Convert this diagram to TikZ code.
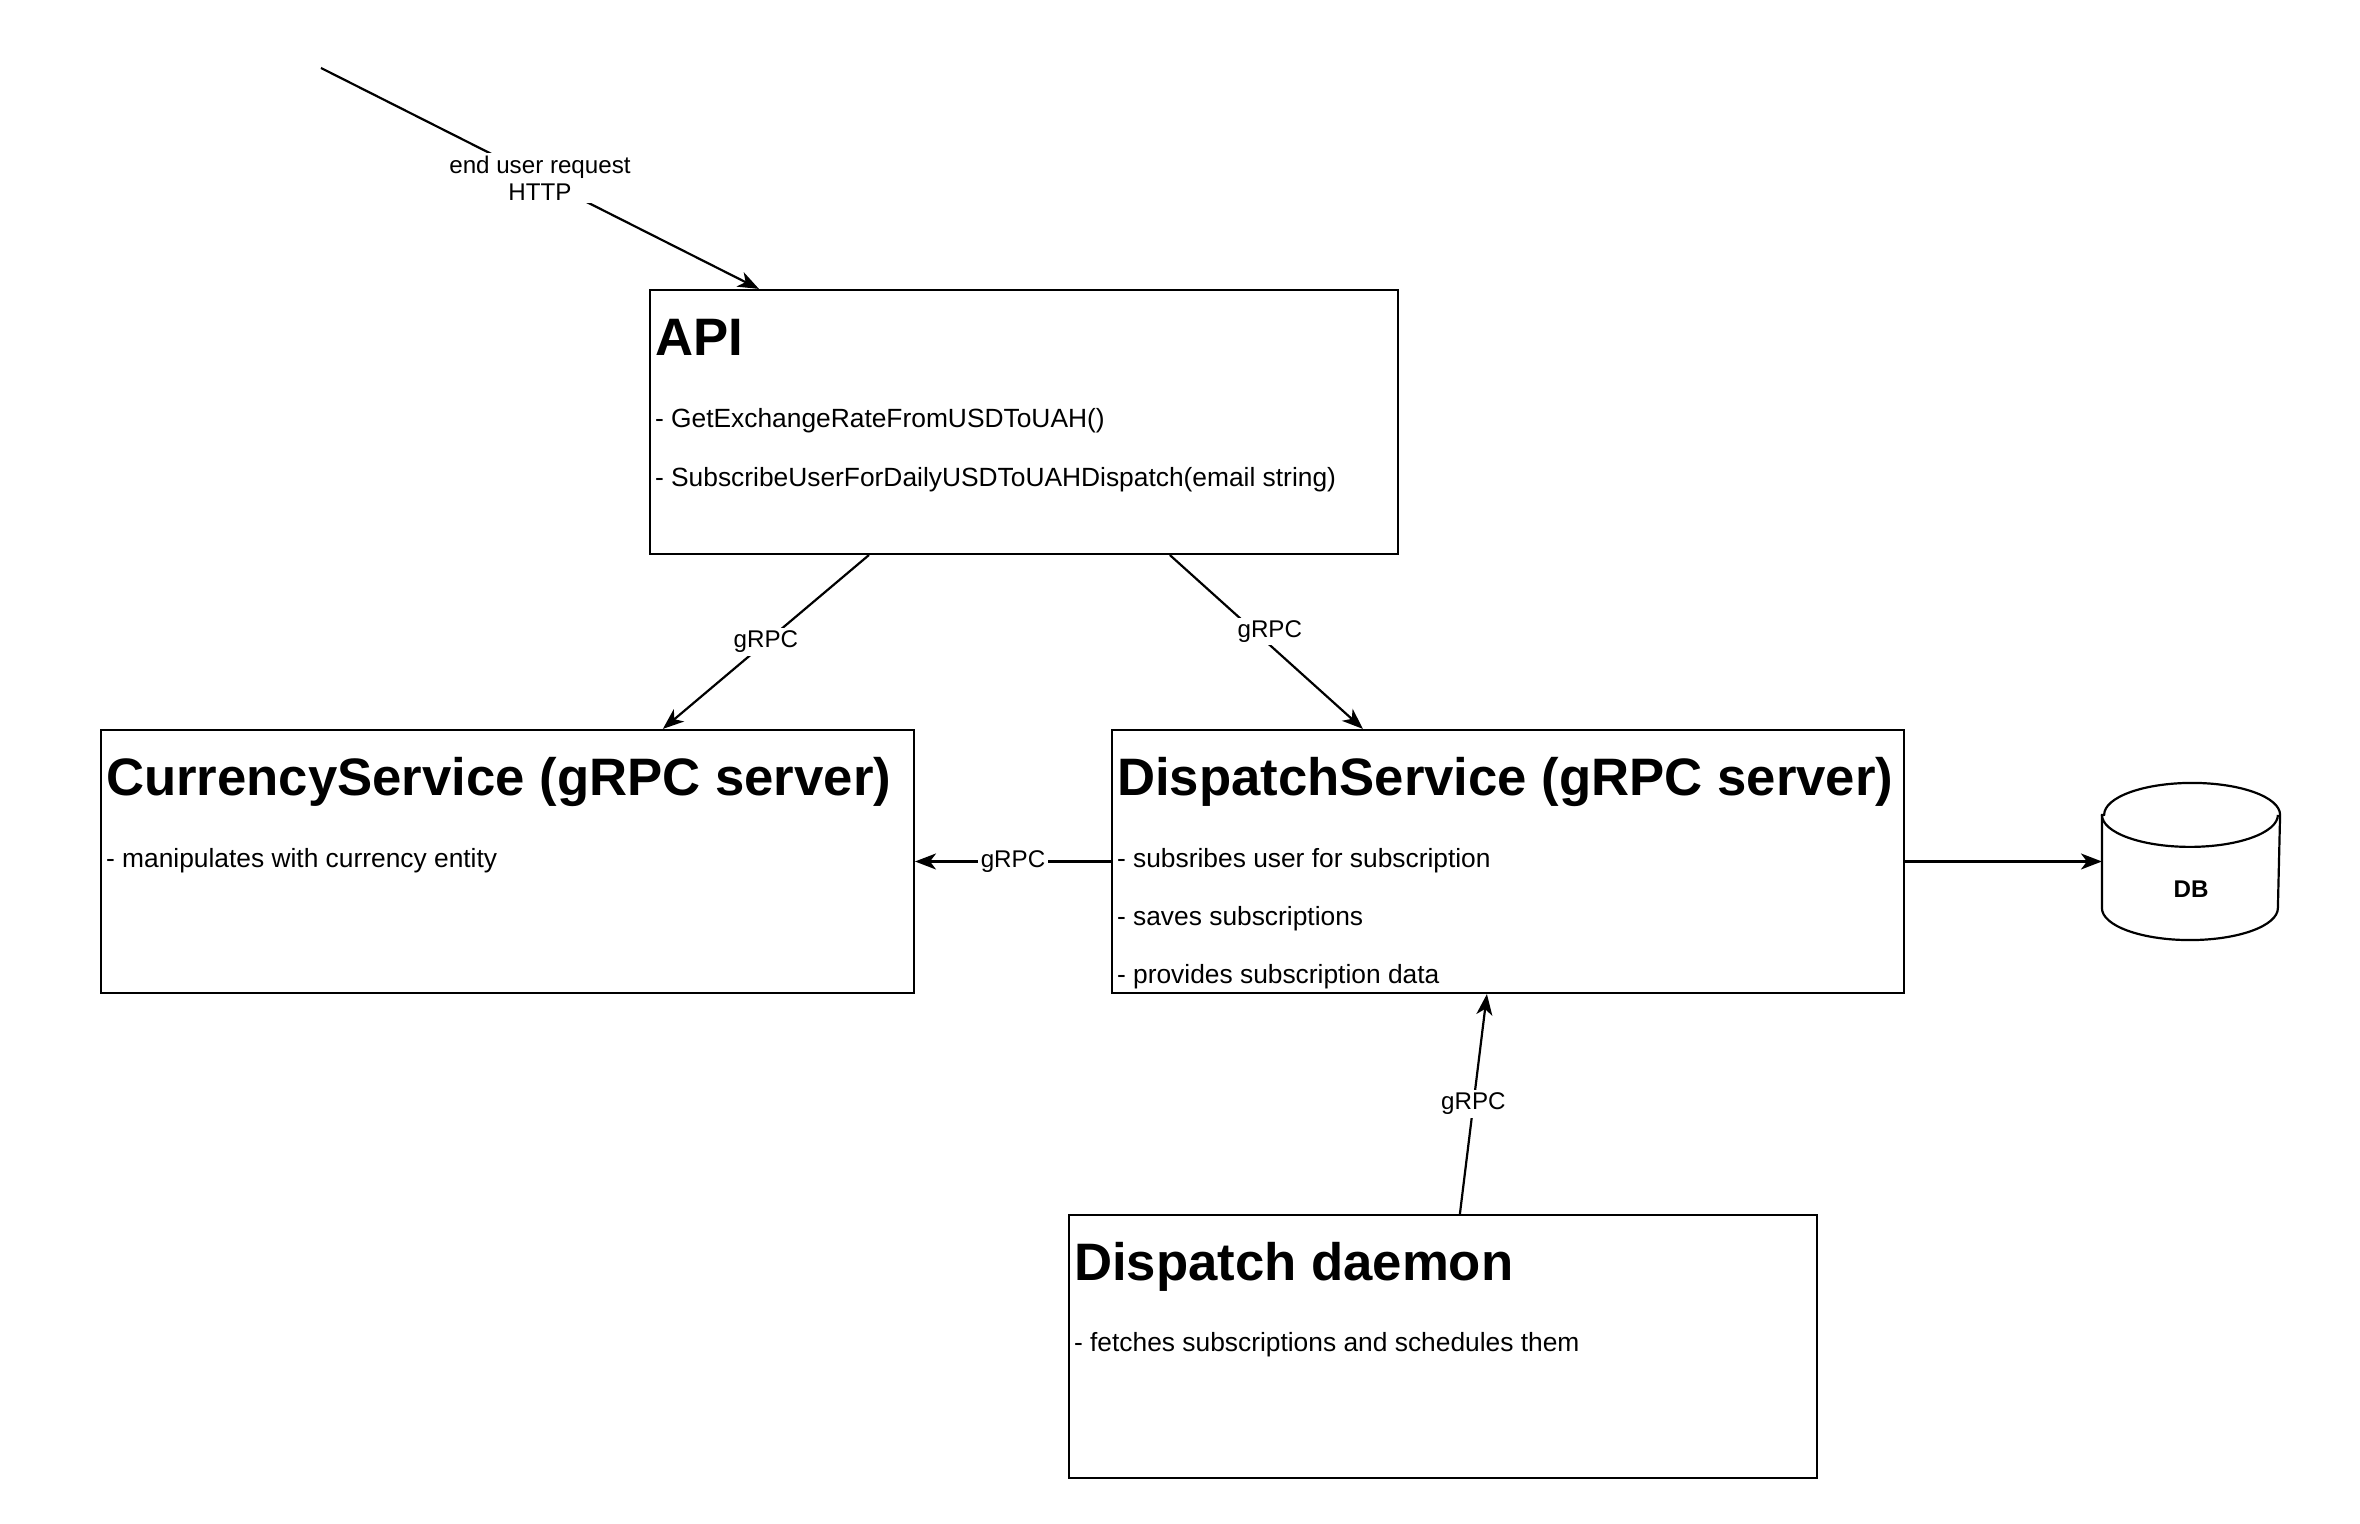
\documentclass[tikz,border=0pt]{standalone}
\usepackage{fontspec}
\setmainfont{Liberation Sans}
\usepackage{tikz}
\usetikzlibrary{arrows.meta}

\begin{document}
\begin{tikzpicture}[x=0.02cm,y=0.02cm,line width=1.25pt,
		box/.style={draw,rectangle,inner sep=0pt},
		heading/.style={anchor=base west,inner sep=0pt,font=\fontsize{30}{36}\selectfont\bfseries},
		item/.style={anchor=base west,inner sep=0pt,font=\fontsize{15}{18}\selectfont},
		lbl/.style={fill=white,inner sep=1.5pt,align=center,font=\fontsize{13.75}{15.5}\selectfont},
		conn/.style={-{Stealth[length=0.42cm,width=0.32cm,inset=0.12cm]}}]
		\path[use as bounding box,fill=white] (0,0) rectangle (2360,1524);
		
		\node[box,minimum width=14.96cm,minimum height=5.28cm] (api) at (1024,1102) {};
		\node[box,minimum width=16.26cm,minimum height=5.26cm] (cur) at (507.5,662.5) {};
		\node[box,minimum width=15.84cm,minimum height=5.26cm] (dsp) at (1508,662.5) {};
		\node[box,minimum width=14.96cm,minimum height=5.26cm] (dmn) at (1443,177.5) {};
		\node[minimum width=3.52cm,minimum height=3.1cm,inner sep=0pt] (db) at (2191,662.5) {};
		
		\node[heading] (apihead) at ([xshift=0.1cm,yshift=-1.34cm]api.north west) {API};
		\node[item] (apiget) at ([xshift=0.1cm,yshift=-2.78cm]api.north west) {- GetExchangeRateFromUSDToUAH()};
		\node[item] (apisub) at ([xshift=0.1cm,yshift=-3.96cm]api.north west) {- SubscribeUserForDailyUSDToUAHDispatch(email string)};
		
		\node[heading] (curhead) at ([xshift=0.1cm,yshift=-1.34cm]cur.north west) {CurrencyService (gRPC server)};
		\node[item] (curman) at ([xshift=0.1cm,yshift=-2.78cm]cur.north west) {- manipulates with currency entity};
		
		\node[heading] (dsphead) at ([xshift=0.1cm,yshift=-1.34cm]dsp.north west) {DispatchService (gRPC server)};
		\node[item] (dspsub) at ([xshift=0.1cm,yshift=-2.78cm]dsp.north west) {- subsribes user for subscription};
		\node[item] (dspsave) at ([xshift=0.1cm,yshift=-3.94cm]dsp.north west) {- saves subscriptions};
		\node[item] (dspdata) at ([xshift=0.1cm,yshift=-5.1cm]dsp.north west) {- provides subscription data};
		
		\node[heading] (dmnhead) at ([xshift=0.1cm,yshift=-1.34cm]dmn.north west) {Dispatch daemon};
		\node[item] (dmnfetch) at ([xshift=0.1cm,yshift=-2.76cm]dmn.north west) {- fetches subscriptions and schedules them};
		
		\draw ([yshift=-0.64cm]db.north west) -- ([yshift=0.64cm]db.south west)
			arc[start angle=180,end angle=360,x radius=1.76cm,y radius=0.64cm]
			-- ([yshift=-0.64cm]db.north east)
			arc[start angle=0,end angle=180,x radius=1.76cm,y radius=0.64cm] -- cycle;
		\draw ([yshift=-0.64cm]db.north west) arc[start angle=180,end angle=360,x radius=1.76cm,y radius=0.64cm];
		\node[font=\fontsize{13.75}{15.5}\selectfont\bfseries] (dblabel) at ([yshift=-0.56cm]db.center) {DB};
		
		\coordinate (user) at (321,1456);
		\draw[conn] (user) -- node[lbl] {end user request\\HTTP} ([xshift=2.2cm]api.north west);
		\draw[conn] ([xshift=4.4cm]api.south west) -- node[lbl] {gRPC} ([xshift=11.26cm]cur.north west);
		\draw[conn] ([xshift=10.42cm]api.south west) -- node[lbl,pos=0.44,xshift=0.3cm] {gRPC} ([xshift=5.04cm]dsp.north west);
		\draw[conn] (dsp.west) -- node[lbl] {gRPC} (cur.east);
		\draw[conn] (dsp.east) -- (db.west);
		\draw[conn] ([xshift=7.84cm]dmn.north west) -- node[lbl] {gRPC} ([xshift=7.52cm]dsp.south west);
	\end{tikzpicture}
\end{document}
